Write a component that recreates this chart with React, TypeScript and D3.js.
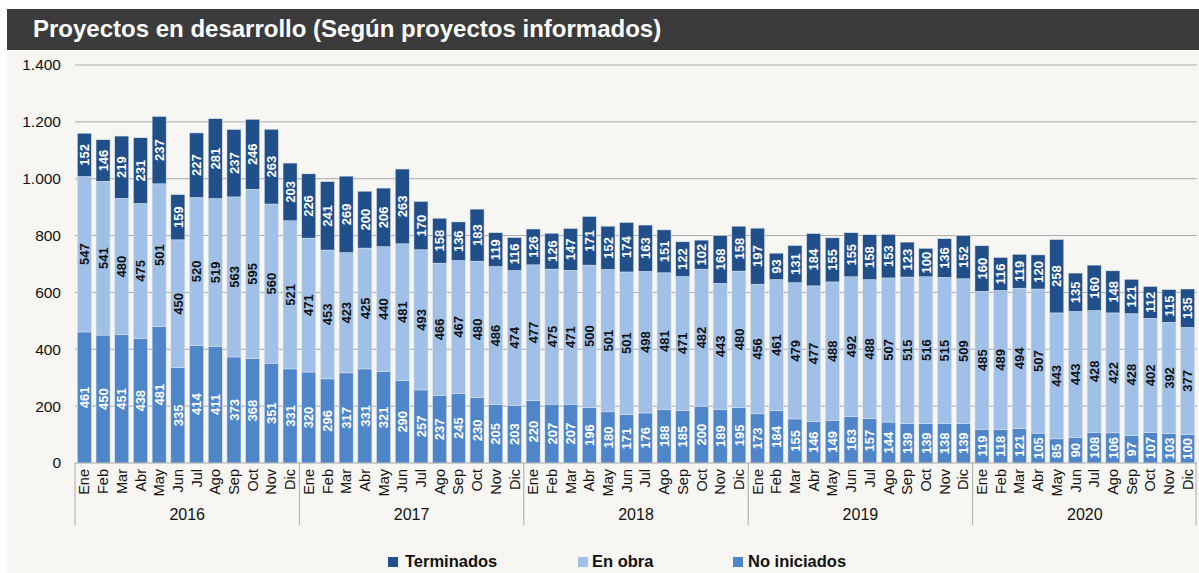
import React from "react";
import * as d3 from "d3";

const years = ["2016", "2017", "2018", "2019", "2020"];
const months = ["Ene", "Feb", "Mar", "Abr", "May", "Jun", "Jul", "Ago", "Sep", "Oct", "Nov", "Dic"];

const noIniciados = [
  461, 450, 451, 438, 481, 335, 414, 411, 373, 368, 351, 331,
  320, 296, 317, 331, 321, 290, 257, 237, 245, 230, 205, 203,
  220, 207, 207, 196, 180, 171, 176, 188, 185, 200, 189, 195,
  173, 184, 155, 146, 149, 163, 157, 144, 139, 139, 138, 139,
  119, 118, 121, 105, 85, 90, 108, 106, 97, 107, 103, 100,
];
const enObra = [
  547, 541, 480, 475, 501, 450, 520, 519, 563, 595, 560, 521,
  471, 453, 423, 425, 440, 481, 493, 466, 467, 480, 486, 474,
  477, 475, 471, 500, 501, 501, 498, 481, 471, 482, 443, 480,
  456, 461, 479, 477, 488, 492, 488, 507, 515, 516, 515, 509,
  485, 489, 494, 507, 443, 443, 428, 422, 428, 402, 392, 377,
];
const terminados = [
  152, 146, 219, 231, 237, 159, 227, 281, 237, 246, 263, 203,
  226, 241, 269, 200, 206, 263, 170, 158, 136, 183, 119, 116,
  126, 126, 147, 171, 152, 174, 163, 151, 122, 102, 168, 158,
  197, 93, 131, 184, 155, 155, 158, 153, 123, 100, 136, 152,
  160, 116, 119, 120, 258, 135, 160, 148, 121, 112, 115, 135,
];
const yTicks = [0, 200, 400, 600, 800, 1000, 1200, 1400];

const seriesKeys = ["noIniciados", "enObra", "terminados"];
const seriesNames: Record<string, string> = {
  terminados: "Terminados",
  enObra: "En obra",
  noIniciados: "No iniciados",
};
const colors: Record<string, string> = {
  noIniciados: "#4f86c9",
  enObra: "#a0c0e7",
  terminados: "#204f8a",
};
const labelColors: Record<string, string> = {
  noIniciados: "#ffffff",
  enObra: "#111111",
  terminados: "#ffffff",
};

const W = 1199;
const H = 573;
const left = 75;
const right = 1197;
const top = 65;
const bottom = 463;
const FONT = "'Liberation Sans', Arial, Helvetica, sans-serif";

export default function App() {
  React.useEffect(() => {
    document.body.style.margin = "0";
  }, []);

  const rows = noIniciados.map((_, i) => ({
    key: `${years[Math.floor(i / 12)]}-${months[i % 12]}`,
    year: years[Math.floor(i / 12)],
    month: months[i % 12],
    noIniciados: noIniciados[i],
    enObra: enObra[i],
    terminados: terminados[i],
  }));

  const x = d3
    .scaleBand<string>()
    .domain(rows.map((r) => r.key))
    .range([left, right])
    .paddingInner(0.25)
    .paddingOuter(0.125);
  const y = d3.scaleLinear().domain([0, 1400]).range([bottom, top]);
  const stack = d3.stack<any>().keys(seriesKeys);
  const stacked = stack(rows);
  const step = (right - left) / rows.length;

  const legendItems = [
    { key: "terminados", sx: 388, tx: 405 },
    { key: "enObra", sx: 578, tx: 592 },
    { key: "noIniciados", sx: 733, tx: 748 },
  ];

  return (
    <svg width={W} height={H} style={{ display: "block" }} fontFamily={FONT}>
      <rect x={0} y={0} width={W} height={H} fill="#ffffff" />
      <rect x={7} y={9} width={W - 7} height={H - 9} fill="#f7f6f2" />
      <rect x={7} y={9} width={W - 7} height={41} fill="#3b3b3b" />
      <text x={33} y={37} fill="#ffffff" fontSize={24} fontWeight="bold">
        Proyectos en desarrollo (Según proyectos informados)
      </text>

      {yTicks.map((t) => (
        <g key={t}>
          {t > 0 && (
            <line x1={left} x2={right} y1={y(t)} y2={y(t)} stroke="#a9a9a9" strokeWidth={1} />
          )}
          <text x={61} y={y(t)} dy="0.35em" textAnchor="end" fontSize={15.5} fill="#111">
            {d3.format(",")(t).replace(/,/g, ".")}
          </text>
        </g>
      ))}

      {stacked.map((s) => (
        <g key={s.key}>
          {s.map((d, i) => {
            const r = rows[i];
            const x0 = x(r.key)!;
            const bw = x.bandwidth();
            const yTop = y(d[1]);
            const yBot = y(d[0]);
            const cx = x0 + bw / 2;
            const cy = (yTop + yBot) / 2;
            return (
              <g key={r.key}>
                <rect
                  x={x0}
                  y={yTop}
                  width={bw}
                  height={yBot - yTop}
                  fill={colors[s.key]}
                  stroke="#dfe6ef"
                  strokeWidth={0.5}
                />
                <text
                  transform={`translate(${cx},${cy}) rotate(-90)`}
                  textAnchor="middle"
                  dy="0.36em"
                  fontSize={13}
                  fontWeight="bold"
                  fill={labelColors[s.key]}
                >
                  {(r as any)[s.key]}
                </text>
              </g>
            );
          })}
        </g>
      ))}

      <line x1={left} x2={right} y1={bottom} y2={bottom} stroke="#a9a9a9" strokeWidth={1} />
      {rows.map((r) => {
        const cx = x(r.key)! + x.bandwidth() / 2;
        return (
          <text
            key={r.key}
            transform={`translate(${cx},${bottom + 6}) rotate(-90)`}
            textAnchor="end"
            dy="0.35em"
            fontSize={14.5}
            fill="#111"
          >
            {r.month}
          </text>
        );
      })}
      {years.map((yr, yi) => {
        const xs = left + yi * 12 * step;
        return (
          <g key={yr}>
            <line x1={xs} x2={xs} y1={bottom} y2={525} stroke="#a9a9a9" strokeWidth={1} />
            <text x={xs + 6 * step} y={520} textAnchor="middle" fontSize={16} fill="#111">
              {yr}
            </text>
          </g>
        );
      })}
      <line x1={right - 1} x2={right - 1} y1={bottom} y2={525} stroke="#a9a9a9" strokeWidth={1} />

      {legendItems.map((l) => (
        <g key={l.key}>
          <rect x={l.sx} y={557} width={10} height={10} fill={colors[l.key]} />
          <text x={l.tx} y={567} fontSize={16.5} fontWeight="bold" fill="#111">
            {seriesNames[l.key]}
          </text>
        </g>
      ))}
    </svg>
  );
}
